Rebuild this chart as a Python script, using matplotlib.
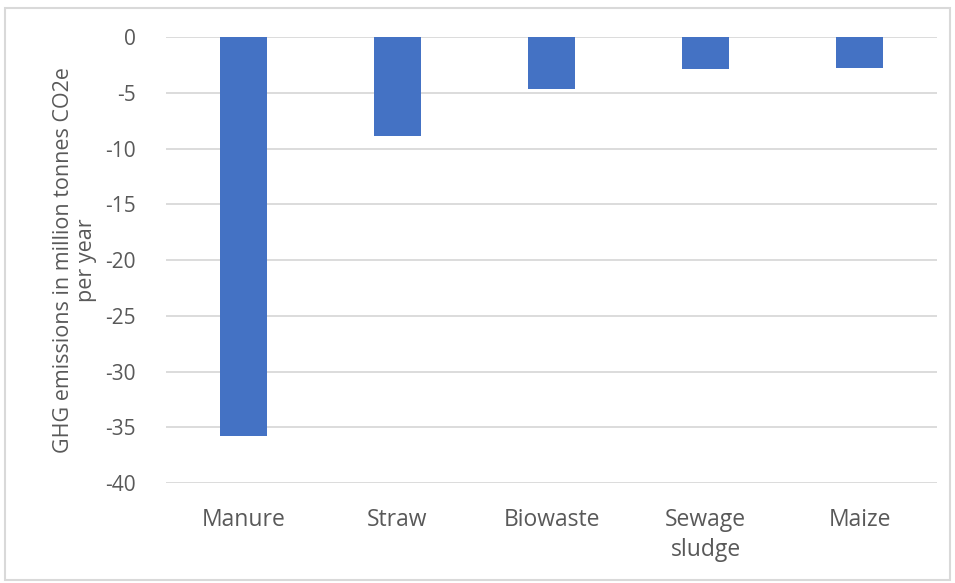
import matplotlib

matplotlib.use("Agg")
import matplotlib.pyplot as plt
from matplotlib.patches import Rectangle

categories = ["Manure", "Straw", "Biowaste", "Sewage\nsludge", "Maize"]
emissions = [-35.8, -8.85, -4.65, -2.9, -2.8]
y_ticks = [0, -5, -10, -15, -20, -25, -30, -35, -40]

BAR_C = "#4472c4"
GRID_C = "#d9d9d9"
TEXT_C = "#595959"
FS = 16.5

plt.rcParams.update({
    "font.family": ["Open Sans", "DejaVu Sans"],
    "font.size": FS,
})

fig = plt.figure(figsize=(9.55, 5.83), dpi=100)
ax = fig.add_axes([0.174, 0.1715, 0.807, 0.765])

x = range(len(categories))
ax.bar(x, emissions, width=0.305, color=BAR_C, zorder=3)

ax.set_xlim(-0.5, len(categories) - 0.5)
ax.set_ylim(-40, 0)
ax.set_yticks(y_ticks)
ax.set_yticklabels([str(t) for t in y_ticks])
ax.set_xticks(list(x))
ax.set_xticklabels(categories, linespacing=1.35)
ax.tick_params(length=0, colors=TEXT_C)
ax.tick_params(axis="y", pad=22, labelsize=15)
ax.tick_params(axis="x", pad=18, labelsize=FS)

ax.grid(axis="y", color=GRID_C, lw=1.3, zorder=0)
ax.set_axisbelow(True)
for s in ax.spines.values():
    s.set_visible(False)

ax.set_ylabel("GHG emissions in million tonnes CO2e\nper year", color=TEXT_C,
              fontsize=15.5, labelpad=6, linespacing=1.08)

# thin frame round the whole chart
fig.patches.append(Rectangle((0.005, 0.005), 0.99, 0.981, transform=fig.transFigure,
                             fill=False, ec=GRID_C, lw=1.5))

fig.savefig("out.png", dpi=100)
